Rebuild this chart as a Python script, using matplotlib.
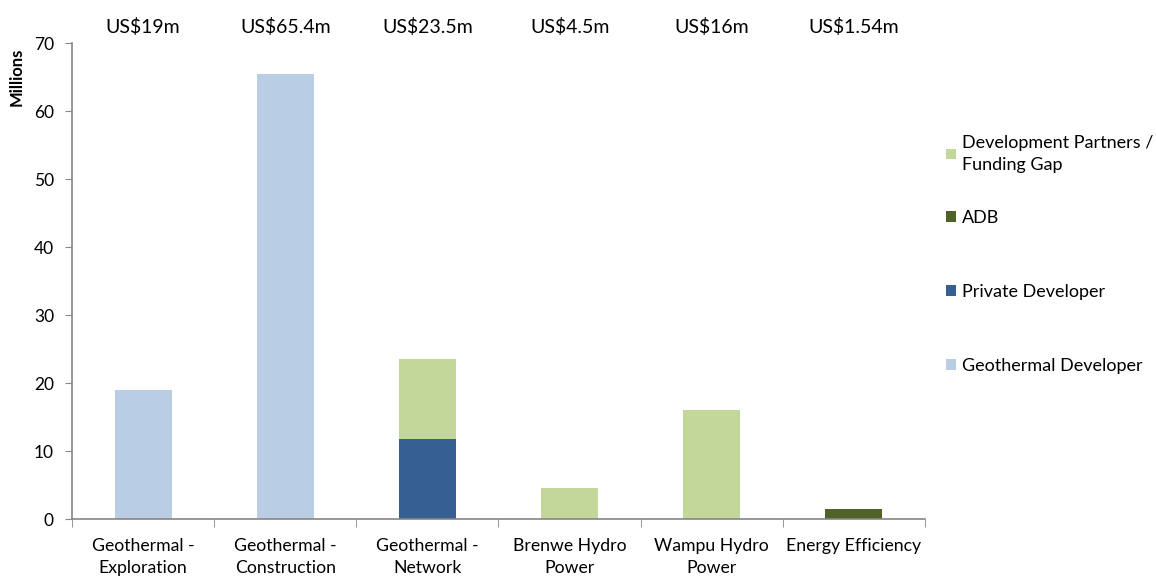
import numpy as np
import matplotlib
matplotlib.use("Agg")
import matplotlib.pyplot as plt

plt.rcParams['font.family'] = ['Lato', 'DejaVu Sans']

# data (US$ millions)
categories = ["Geothermal -\nExploration", "Geothermal -\nConstruction", "Geothermal -\nNetwork",
              "Brenwe Hydro\nPower", "Wampu Hydro\nPower", "Energy Efficiency"]
geothermal_dev = [19, 65.4, 0, 0, 0, 0]
private_dev = [0, 0, 11.75, 0, 0, 0]
adb = [0, 0, 0, 0, 0, 1.54]
dev_partners = [0, 0, 11.75, 4.5, 16, 0]
totals = ["US$19m", "US$65.4m", "US$23.5m", "US$4.5m", "US$16m", "US$1.54m"]

c_geo = "#B9CDE5"
c_priv = "#366092"
c_adb = "#4F6228"
c_dp = "#C4D79B"

fig = plt.figure(figsize=(11.56, 5.76), dpi=100)
ax = fig.add_axes([72/1156, 1-519/576, 853/1156, 476/576])

x = np.arange(len(categories))
w = 0.4
b1 = ax.bar(x, geothermal_dev, w, color=c_geo, label="Geothermal Developer")
b2 = ax.bar(x, private_dev, w, bottom=geothermal_dev, color=c_priv, label="Private Developer")
base = np.array(geothermal_dev) + np.array(private_dev)
b3 = ax.bar(x, adb, w, bottom=base, color=c_adb, label="ADB")
base = base + np.array(adb)
b4 = ax.bar(x, dev_partners, w, bottom=base, color=c_dp, label="Development Partners /\nFunding Gap")

ax.set_xlim(-0.5, len(categories) - 0.5)
ax.set_ylim(0, 70)
ax.set_yticks(range(0, 71, 10))
ax.set_xticks(x)
ax.set_xticklabels(categories, fontsize=12.7, linespacing=1.45)
ax.tick_params(axis='x', length=0, pad=14)
ax.set_xticks(np.arange(-0.5, len(categories), 1), minor=True)
ax.tick_params(axis='x', which='minor', length=6, color="#868686", direction='out')
ax.tick_params(axis='y', length=5, color="#868686", labelsize=12.5, pad=8)

for s in ['top', 'right']:
    ax.spines[s].set_visible(False)
for s in ['left', 'bottom']:
    ax.spines[s].set_color("#868686")
    ax.spines[s].set_linewidth(1.2)

ax.set_ylabel("Millions", fontsize=12, fontweight='bold')
ax.yaxis.set_label_coords((25 - 72) / 853, (519 - 77) / 476)

for i, t in enumerate(totals):
    ax.text(x[i], 72.4, t, ha='center', va='center', fontsize=14, clip_on=False)

leg_kw = dict(loc='upper left', frameon=False, fontsize=13, handlelength=0.55,
              handleheight=0.55, handletextpad=0.35, borderpad=0, borderaxespad=0)
leg1 = fig.legend([b4], ["Development Partners /\nFunding Gap"],
                  bbox_to_anchor=(946/1156, 1-135/576), **leg_kw)
for t in leg1.get_texts():
    t.set_linespacing(1.45)
leg2 = fig.legend([b3, b2, b1], ["ADB", "Private Developer", "Geothermal Developer"],
                  bbox_to_anchor=(946/1156, 1-210/576), labelspacing=3.2, **leg_kw)

fig.savefig("out.png", dpi=100)
